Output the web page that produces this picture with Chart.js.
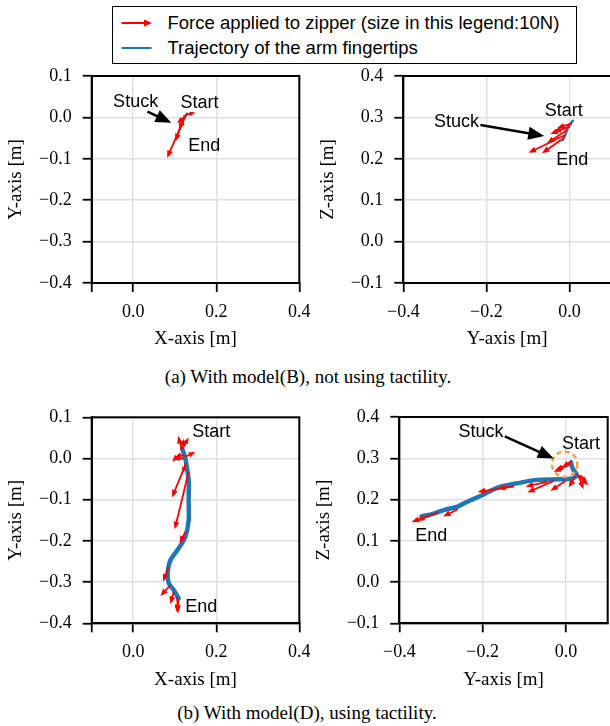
<!DOCTYPE html>
<html>
<head>
<meta charset="utf-8">
<script src="https://cdn.jsdelivr.net/npm/chart.js@4.4.1/dist/chart.umd.min.js"></script>
<style>
html, body { margin: 0; padding: 0; background: #fff; }
body { width: 610px; height: 726px; position: relative; overflow: hidden; }
canvas { position: absolute; }
#legend { position: absolute; left: 112px; top: 6px; width: 465px; height: 58px; border: 1.5px solid #000;
  box-sizing: border-box; font-family: 'Liberation Sans', Arial, sans-serif; font-size: 18.5px; background: #fff; }
.row { position: absolute; left: 0; height: 22px; line-height: 22px; white-space: nowrap; }
.row svg { position: absolute; left: 8px; top: 0; }
.row span { position: absolute; left: 54.5px; top: 0; }
.cap { position: absolute; width: 610px; text-align: center; line-height: 22px;
  font-family: 'Liberation Serif', 'Times New Roman', serif; font-size: 19px; }
</style>
</head>
<body>
<div id="legend">
  <div class="row" style="top:4.5px">
    <svg width="34" height="22"><polygon points="0.5,10.1 23,10.1 23,7.6 31,11 23,14.4 23,11.9 0.5,11.9" fill="#ff0000"/></svg>
    <span>Force applied to zipper (size in this legend:10N)</span>
  </div>
  <div class="row" style="top:29.5px">
    <svg width="34" height="22"><line x1="0.5" y1="11" x2="30.5" y2="11" stroke="#1f77b4" stroke-width="2"/></svg>
    <span>Trajectory of the arm fingertips</span>
  </div>
</div>
<canvas id="cA1"></canvas>
<canvas id="cA2"></canvas>
<canvas id="cB1"></canvas>
<canvas id="cB2"></canvas>
<div class="cap" style="left:3px; top:366px">(a) With model(B), not using tactility.</div>
<div class="cap" style="left:2px; top:702px">(b) With model(D), using tactility.</div>

<script>
// ---- tick values / labels ----
const xTicksXY = [-0.1, 0.0, 0.2, 0.4];
const xLabelsXY = ['', '0.0', '0.2', '0.4'];
const yTicksXY = [0.1, 0.0, -0.1, -0.2, -0.3, -0.4];
const xTicksYZ = [-0.4, -0.2, 0.0];
const yTicksYZ = [0.4, 0.3, 0.2, 0.1, 0.0, -0.1];

// ---- (a) model(B): trajectory of fingertips ----
const trajA_x = [0.130, 0.126, 0.121, 0.118];
const trajA_y = [0.009, 0.003, -0.006, -0.018];
const trajA_yz = [0.008, 0.003, -0.0024, -0.0103, -0.016];
const trajA_z = [0.292, 0.285, 0.2775, 0.2575, 0.2454];

// forces [x0, y0, x1, y1] (tail -> tip)
const forceA_xy = [
  [0.128, 0.0065, 0.1495, 0.0121],
  [0.1255, 0.0024, 0.1056, -0.0135],
  [0.1214, -0.0056, 0.0816, -0.0981],
  [0.1176, -0.0135, 0.1015, -0.058],
  [0.1231, -0.0015, 0.1095, -0.0297],
  [0.1296, 0.0089, 0.1175, -0.005]
];
const forceA_yz = [
  [0.0058, 0.2857, -0.0302, 0.2737],
  [-0.0024, 0.2775, -0.0463, 0.2599],
  [-0.0103, 0.2575, -0.0984, 0.2147],
  [-0.0144, 0.2495, -0.0662, 0.2133],
  [-0.0062, 0.2696, -0.0542, 0.2374],
  [0.0017, 0.2775, -0.0384, 0.2654]
];

// ---- (b) model(D) ----
const trajB_x = [0.1176, 0.1255, 0.1295, 0.1335, 0.1335, 0.1335, 0.1255, 0.1095, 0.0895, 0.083, 0.0855, 0.0975, 0.1095];
const trajB_y = [0.0245, 0.0, -0.024, -0.052, -0.101, -0.15, -0.19, -0.218, -0.247, -0.279, -0.303, -0.319, -0.34];
const trajB_yz = [0.0119, 0.0167, 0.026, 0.0143, -0.0136, -0.069, -0.109, -0.164, -0.204, -0.232, -0.26, -0.291, -0.323, -0.347];
const trajB_z = [0.29, 0.2735, 0.259, 0.251, 0.249, 0.2476, 0.241, 0.229, 0.209, 0.197, 0.183, 0.175, 0.164, 0.159];

const forceB_xy = [
  [0.1176, 0.0204, 0.108, 0.0544],
  [0.1215, 0.0284, 0.1335, 0.0512],
  [0.119, 0.022, 0.1215, 0.048],
  [0.1135, 0.0124, 0.0936, -0.008],
  [0.1255, 0.0041, 0.1495, 0.0163],
  [0.1215, 0.0, 0.0975, 0.0],
  [0.124, 0.008, 0.102, 0.004],
  [0.127, -0.012, 0.118, -0.035],
  [0.1255, -0.016, 0.0936, -0.0944],
  [0.1335, -0.032, 0.0999, -0.172],
  [0.1255, -0.178, 0.112, -0.206],
  [0.0855, -0.263, 0.072, -0.299],
  [0.0895, -0.307, 0.0655, -0.334],
  [0.0975, -0.3235, 0.0895, -0.353],
  [0.1056, -0.3357, 0.108, -0.376],
  [0.1095, -0.3437, 0.104, -0.372]
];
const forceB_yz = [
  [0.0102, 0.2856, -0.0255, 0.2718],
  [0.0024, 0.2816, -0.0295, 0.267],
  [0.0143, 0.2937, -0.0095, 0.2777],
  [0.026, 0.2614, 0.0538, 0.2347],
  [0.03, 0.2573, 0.042, 0.225],
  [0.0221, 0.2558, 0.0062, 0.2291],
  [0.034, 0.259, 0.05, 0.2427],
  [-0.0295, 0.2451, -0.0929, 0.217],
  [-0.0017, 0.2451, -0.0374, 0.2209],
  [-0.0452, 0.2427, -0.0969, 0.2316],
  [-0.1248, 0.2316, -0.164, 0.2267],
  [-0.1405, 0.2291, -0.212, 0.2184],
  [-0.2595, 0.1765, -0.295, 0.1587],
  [-0.307, 0.1684, -0.3707, 0.1456],
  [-0.331, 0.1602, -0.3548, 0.148]
];

const SERIF = "'Liberation Serif', 'Times New Roman', serif";
const SANS = "'Liberation Sans', Arial, sans-serif";
Chart.defaults.color = '#000';

function fmt(v) { return (v < -1e-9 ? '\u2212' : '') + Math.abs(v).toFixed(1); }

// quiver-like arrow polygon
function arrow(ctx, x0, y0, x1, y1, w, hl, hw) {
  const dx = x1 - x0, dy = y1 - y0, L = Math.hypot(dx, dy);
  if (L < 0.5) return;
  const ux = dx / L, uy = dy / L, nx = -uy, ny = ux;
  const k = Math.min(1, L * 0.6 / hl);
  hl *= k; hw = Math.max(w, hw * k);
  const bx = x1 - ux * hl, by = y1 - uy * hl;
  ctx.beginPath();
  ctx.moveTo(x0 + nx * w / 2, y0 + ny * w / 2);
  ctx.lineTo(bx + nx * w / 2, by + ny * w / 2);
  ctx.lineTo(bx + nx * hw / 2, by + ny * hw / 2);
  ctx.lineTo(x1, y1);
  ctx.lineTo(bx - nx * hw / 2, by - ny * hw / 2);
  ctx.lineTo(bx - nx * w / 2, by - ny * w / 2);
  ctx.lineTo(x0 - nx * w / 2, y0 - ny * w / 2);
  ctx.closePath();
  ctx.fill();
}

const decoPlugin = {
  id: 'deco',
  afterDatasetsDraw(chart, args, o) {
    const ctx = chart.ctx, sx = chart.scales.x, sy = chart.scales.y;
    const px = v => sx.getPixelForValue(v), py = v => sy.getPixelForValue(v);
    ctx.save();
    ctx.fillStyle = '#ff0000';
    o.forces.forEach(f => arrow(ctx, px(f[0]), py(f[1]), px(f[2]), py(f[3]), 1.8, 7.5, 6));
    if (o.circle) {
      ctx.strokeStyle = '#f7a04c';
      ctx.lineWidth = 2.5;
      ctx.setLineDash([5, 3.5]);
      ctx.beginPath();
      ctx.arc(px(o.circle[0]), py(o.circle[1]), 12.7, 0, Math.PI * 2);
      ctx.stroke();
      ctx.setLineDash([]);
    }
    ctx.fillStyle = '#000';
    if (o.stuck) {
      const s = o.stuck;
      arrow(ctx, px(s[0]), py(s[1]), px(s[2]), py(s[3]), 2.6, 16, 13);
    }
    ctx.font = '18px ' + SANS;
    ctx.textAlign = 'center';
    ctx.textBaseline = 'middle';
    o.labels.forEach(l => ctx.fillText(l[0], px(l[1]), py(l[2])));
    const a = chart.chartArea;
    ctx.strokeStyle = '#000';
    ctx.lineWidth = 2;
    ctx.strokeRect(a.left, a.top, a.right - a.left, a.bottom - a.top);
    ctx.restore();
  }
};

function axis(horizontal, min, max, ticks, labels, title, size, titlePad) {
  return {
    type: 'linear', min: min, max: max,
    afterBuildTicks: s => { s.ticks = ticks.map(v => ({ value: v })); },
    afterFit: s => {
      if (horizontal) s.height = size; else s.width = size;
      s.paddingLeft = s.paddingRight = s.paddingTop = s.paddingBottom = 0;
    },
    ticks: {
      font: { family: SERIF, size: 18, lineHeight: 1.2 }, color: '#000',
      padding: horizontal ? 9 : 11, maxRotation: 0, autoSkip: false,
      callback: (v, i) => labels[i]
    },
    grid: { color: '#e0e0e0', lineWidth: 1.5, tickColor: '#000', tickWidth: 1.8, tickLength: 9 },
    border: { display: true, color: '#000', width: 2 },
    title: { display: true, text: title, color: '#000',
      font: { family: SERIF, size: 19, lineHeight: 1.2 }, padding: titlePad }
  };
}

function makePanel(id, g, xs, ys, tx, ty, lw, deco) {
  const cv = document.getElementById(id);
  cv.width = g.w; cv.height = g.h;
  cv.style.left = g.left + 'px'; cv.style.top = g.top + 'px';
  cv.style.width = g.w + 'px'; cv.style.height = g.h + 'px';
  const aL = g.area[0] - g.left, aT = g.area[1] - g.top, aR = g.area[2] - g.left, aB = g.area[3] - g.top;
  const yTitleX = aL - 75.7, xTitleY = aB + 56.5;
  const xAxis = axis(true, xs.min, xs.max, xs.ticks, xs.labels, xs.title, g.h - aB,
    { top: 0, bottom: g.h - xTitleY - 11.4 });
  const yAxis = axis(false, ys.min, ys.max, ys.ticks, ys.labels, ys.title, aL,
    { top: yTitleX - 11.4, bottom: 0 });
  return new Chart(cv, {
    type: 'scatter',
    data: {
      datasets: [{
        data: tx.map((x, i) => ({ x: x, y: ty[i] })),
        showLine: true, borderColor: '#1f77b4', borderWidth: lw, pointRadius: 0,
        tension: 0.3, borderCapStyle: 'round', borderJoinStyle: 'round'
      }]
    },
    options: {
      responsive: false, animation: false, devicePixelRatio: 1,
      layout: { padding: { left: 0, top: aT, right: g.w - aR, bottom: 0 } },
      scales: { x: xAxis, y: yAxis },
      plugins: { legend: { display: false }, tooltip: { enabled: false }, deco: deco }
    },
    plugins: [decoPlugin]
  });
}

const axXY_x = { min: -0.1, max: 0.4, ticks: xTicksXY, labels: xLabelsXY, title: 'X-axis [m]' };
const axXY_y = { min: -0.4, max: 0.1, ticks: yTicksXY, labels: yTicksXY.map(fmt), title: 'Y-axis [m]' };
const axYZ_x = { min: -0.4, max: 0.1, ticks: xTicksYZ, labels: xTicksYZ.map(fmt), title: 'Y-axis [m]' };
const axYZ_y = { min: -0.1, max: 0.4, ticks: yTicksYZ, labels: yTicksYZ.map(fmt), title: 'Z-axis [m]' };

makePanel('cA1', { left: 0, top: 60, w: 310, h: 300, area: [91.7, 76, 299.3, 283] },
  axXY_x, axXY_y, trajA_x, trajA_y, 2.5,
  { forces: forceA_xy, stuck: [0.0343, 0.0138, 0.0919, -0.0128],
    labels: [['Stuck', 0.0058, 0.0379], ['Start', 0.1596, 0.0355], ['End', 0.1711, -0.0684]] });

makePanel('cA2', { left: 310, top: 60, w: 302, h: 300, area: [403.3, 76, 611, 283] },
  axYZ_x, axYZ_y, trajA_yz, trajA_z, 2.5,
  { forces: forceA_yz, stuck: [-0.2143, 0.2816, -0.0607, 0.2551],
    labels: [['Stuck', -0.2719, 0.2889], ['Start', -0.0139, 0.3155], ['End', 0.0065, 0.1971]] });

makePanel('cB1', { left: 0, top: 400, w: 310, h: 300, area: [91.7, 417.3, 299.3, 623.3] },
  axXY_x, axXY_y, trajB_x, trajB_y, 4.5,
  { forces: forceB_xy,
    labels: [['Start', 0.1879, 0.0641], ['End', 0.1639, -0.3607]] });

makePanel('cB2', { left: 310, top: 400, w: 300, h: 300, area: [399.3, 417, 607.7, 623.3] },
  axYZ_x, axYZ_y, trajB_yz, trajB_z, 4.5,
  { forces: forceB_yz, circle: [-0.0033, 0.2857], stuck: [-0.1469, 0.3529, -0.0295, 0.2995],
    labels: [['Stuck', -0.204, 0.3625], ['Start', 0.036, 0.3342], ['End', -0.3231, 0.1117]] });
</script>
</body>
</html>
